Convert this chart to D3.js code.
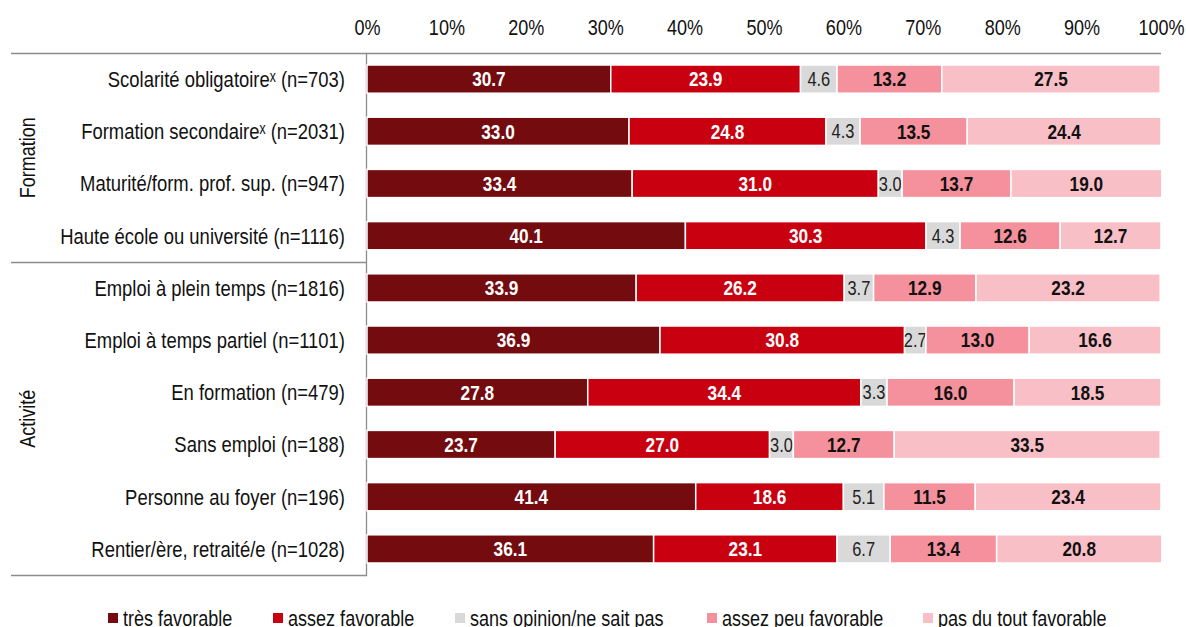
<!DOCTYPE html>
<html><head><meta charset="utf-8">
<script src="https://cdn.jsdelivr.net/npm/d3@7"></script>
<style>
body{margin:0;background:#fff;}
text{font-family:"Liberation Sans Narrow","Arial Narrow","Liberation Sans",Arial,sans-serif;}
</style></head>
<body><svg id="c" width="1186" height="627"></svg>
<script>
const categories = ["Scolarité obligatoire\u02E3 (n=703)","Formation secondaire\u02E3 (n=2031)","Maturité/form. prof. sup. (n=947)","Haute école ou université (n=1116)","Emploi à plein temps (n=1816)","Emploi à temps partiel (n=1101)","En formation (n=479)","Sans emploi (n=188)","Personne au foyer (n=196)","Rentier/ère, retraité/e (n=1028)"];
const seriesNames = ["très favorable","assez favorable","sans opinion/ne sait pas","assez peu favorable","pas du tout favorable"];
const tresFav   = [30.7,33.0,33.4,40.1,33.9,36.9,27.8,23.7,41.4,36.1];
const assezFav  = [23.9,24.8,31.0,30.3,26.2,30.8,34.4,27.0,18.6,23.1];
const sansOp    = [4.6,4.3,3.0,4.3,3.7,2.7,3.3,3.0,5.1,6.7];
const assezPeu  = [13.2,13.5,13.7,12.6,12.9,13.0,16.0,12.7,11.5,13.4];
const pasDuTout = [27.5,24.4,19.0,12.7,23.2,16.6,18.5,33.5,23.4,20.8];
const groups = [{name:"Formation", from:0, to:3},{name:"Activité", from:4, to:9}];
const tickValues = [0,10,20,30,40,50,60,70,80,90,100];

const colors = ["#730b0f","#c9000f","#d9d9d9","#f5919c","#f9bfc6"];
const labelFill = ["#fff","#fff","#222","#111","#111"];
const labelWeight = ["bold","bold","normal","bold","bold"];
const seriesValues = [tresFav,assezFav,sansOp,assezPeu,pasDuTout];

// condensed text helper (emulates a narrow font)
const SX = 0.82;
function ntext(sel, x, y, str, opts={}) {
  const rot = opts.rotate ? ` rotate(${opts.rotate})` : "";
  return sel.append("text")
    .attr("transform", `translate(${x},${y})${rot} scale(${SX},1)`)
    .attr("text-anchor", opts.anchor || "start")
    .attr("dy", opts.dy || "0.35em")
    .attr("font-size", opts.size || 22)
    .attr("font-weight", opts.weight || "normal")
    .attr("fill", opts.fill || "#111")
    .text(str);
}

const svg = d3.select("#c");
const x = d3.scaleLinear().domain([0,100]).range([367,1161]);
const y = d3.scaleBand().domain(categories).range([53,575]).paddingInner(0.46).paddingOuter(0.23);

// top axis (ticks from the scale, labels condensed)
const ax = svg.append("g").attr("transform","translate(0,27)")
  .call(d3.axisTop(x).tickValues(tickValues).tickFormat(d=>d+"%").tickSize(0).tickPadding(0));
ax.select(".domain").remove();
ax.selectAll("text").attr("font-size",22).attr("fill","#111").attr("dy","0.35em")
  .attr("y",0).attr("x",0).attr("transform",`scale(${SX},1)`);

// frame lines
const lc = "#8c8c8c";
svg.append("line").attr("x1",11).attr("x2",1161).attr("y1",53.5).attr("y2",53.5).attr("stroke",lc).attr("stroke-width",1.3);
svg.append("line").attr("x1",x(0)-0.5).attr("x2",x(0)-0.5).attr("y1",53).attr("y2",576).attr("stroke",lc).attr("stroke-width",1.3);
svg.append("line").attr("x1",11).attr("x2",x(0)).attr("y1",575.5).attr("y2",575.5).attr("stroke",lc).attr("stroke-width",1.3);
const sepY = Math.round((y(categories[3]) + y.bandwidth() + y(categories[4]))/2)+0.5;
svg.append("line").attr("x1",11).attr("x2",x(0)).attr("y1",sepY).attr("y2",sepY).attr("stroke",lc).attr("stroke-width",1.3);

// group labels
groups.forEach(g=>{
  const y0 = g.from===0 ? 53 : sepY;
  const y1 = g.to===categories.length-1 ? 575 : sepY;
  ntext(svg, 27, (y0+y1)/2, g.name, {anchor:"middle", rotate:-90});
});

// category labels
const cg = svg.append("g");
categories.forEach(c=> ntext(cg, 345, y(c)+y.bandwidth()/2, c, {anchor:"end", size:22.5}));

// stacked bars
categories.forEach((c,i)=>{
  let cum = 0;
  seriesValues.forEach((arr,s)=>{
    const v = arr[i];
    const x0 = x(cum), x1 = x(cum+v);
    svg.append("rect").attr("x",x0).attr("y",y(c)).attr("width",x1-x0).attr("height",y.bandwidth())
      .attr("fill",colors[s]).attr("stroke","#fff").attr("stroke-width",1.5);
    ntext(svg, (x0+x1)/2, y(c)+y.bandwidth()/2, v.toFixed(1),
      {anchor:"middle", size: s===2?20:21, weight:labelWeight[s], fill:labelFill[s]});
    cum += v;
  });
});

// legend
const legX = [108,273,455,707,923];
seriesNames.forEach((n,s)=>{
  svg.append("rect").attr("x",legX[s]).attr("y",613).attr("width",10).attr("height",10).attr("fill",colors[s]);
  ntext(svg, legX[s]+15, 626, n, {dy:"0", size:22});
});
</script></body></html>
